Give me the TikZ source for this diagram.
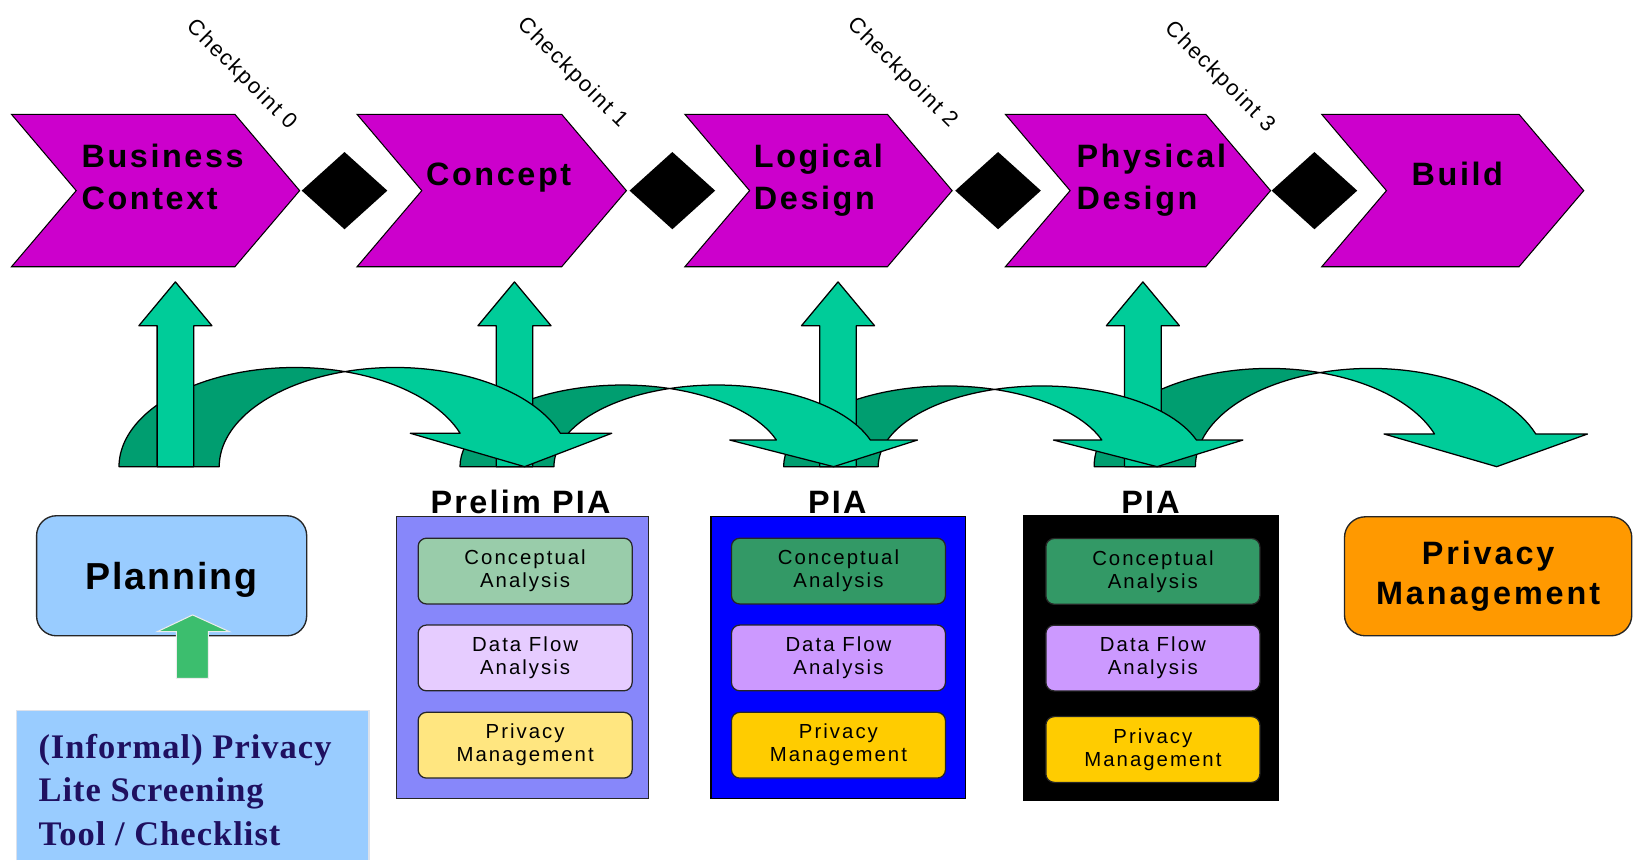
\documentclass[tikz,border=0pt]{standalone}
\usepackage{fontspec}
\setmainfont{Liberation Sans}
\newfontfamily\timesfam{Liberation Serif}
\definecolor{chevmag}{RGB}{204,0,204}
\definecolor{arrlight}{RGB}{0,204,153}
\definecolor{arrdark}{RGB}{0,158,112}
\definecolor{planblue}{RGB}{153,204,255}
\definecolor{orangebox}{RGB}{255,153,0}
\definecolor{upgreen}{RGB}{60,190,110}
\definecolor{navytext}{RGB}{31,16,96}
\definecolor{prelimbg}{RGB}{135,135,250}
\definecolor{concgreen}{RGB}{51,153,102}
\definecolor{flowpurple}{RGB}{204,153,255}
\definecolor{privyellow}{RGB}{255,204,0}
\definecolor{concgreenlt}{RGB}{153,204,170}
\definecolor{flowpurplelt}{RGB}{230,204,255}
\definecolor{privyellowlt}{RGB}{255,230,128}
\definecolor{infoborder}{RGB}{220,225,235}

% curved arrow: #1 left foot x, #2 band width, #3 x radius, #4 y radius,
% #5 head base y, #6 left barb x, #7 right barb x, #8 tip x
\newcommand{\curvarrow}[8]{%
  \pgfmathsetmacro{\cxA}{#1+#3}%
  \pgfmathsetmacro{\angI}{acos(#2/(2*#3))}%
  \pgfmathsetmacro{\angH}{asin((447-#5)/#4)}%
  \pgfmathsetmacro{\xiA}{\cxA+#3*cos(\angH)}%
  \filldraw[arrbody, fill=arrdark]
    (#1,447) arc[start angle=180, end angle={360-\angI}, x radius=#3, y radius=#4]
    arc[start angle={180+\angI}, end angle=180, x radius=#3, y radius=#4] -- cycle;
  \filldraw[arrbody, fill=arrlight]
    (\xiA,#5) arc[start angle={360-\angH}, end angle={360-\angI}, x radius=#3, y radius=#4]
    arc[start angle={180+\angI}, end angle={360-\angH}, x radius=#3, y radius=#4]
    -- (#7,#5) -- (#8,447) -- (#6,#5) -- cycle;
}
% up arrow: #1 centre x
\newcommand{\uparr}[1]{%
  \filldraw[arrbody, fill=arrlight]
    (#1-17.5,447) -- (#1-17.5,312) -- (#1-35,312) -- (#1,270) -- (#1+35,312)
    -- (#1+17.5,312) -- (#1+17.5,447) -- cycle;
}
% chevron: #1 left x, #2 tip x
\newcommand{\chevshape}[2]{%
  \draw[chev] (#1,109.5) -- (#2-62,109.5) -- (#2,182.6) -- (#2-62,255.5)
    -- (#1,255.5) -- (#1+62,182.6) -- cycle;
}
\newcommand{\diam}[1]{%
  \fill[black] (#1-41,182.6) -- (#1,145.6) -- (#1+41,182.6) -- (#1,219.6) -- cycle;
}

\begin{document}
\begin{tikzpicture}[x=1pt,y=-1pt,
  chev/.style={fill=chevmag, draw=black, line width=1pt},
  arrbody/.style={draw=black, line width=1.2pt, line join=round},
  chevtext/.style={font=\fontsize{31}{40.5}\selectfont\bfseries\addfontfeature{LetterSpace=8},
    inner sep=0pt, anchor=base west, align=left},
  cptext/.style={font=\fontsize{21}{24}\selectfont\addfontfeature{LetterSpace=8},
    inner sep=0pt, rotate=-45},
  boxlabel/.style={font=\fontsize{31}{35}\selectfont\bfseries\addfontfeature{LetterSpace=7},
    inner sep=0pt, anchor=base},
  innerbox/.style={draw=black!85, line width=1.2pt, rounded corners=8pt,
    minimum width=205pt, minimum height=63pt, inner sep=0pt, align=center,
    font=\fontsize{19.5}{22}\selectfont\addfontfeature{LetterSpace=10}},
  bigbox/.style={draw=black!85, line width=1.3pt, inner sep=0pt, align=center}
]
\useasboundingbox (0,0) rectangle (1568,824);

% ---------- chevrons ----------
\chevshape{11}{287}
\chevshape{342}{600}
\chevshape{656}{912}
\chevshape{963}{1217}
\chevshape{1266}{1517}
\diam{330}
\diam{644}
\diam{956}
\diam{1259}

\node[chevtext] (bc) at (78,201) {Business\\Context};
\node[chevtext] (cc) at (408,177.5) {Concept};
\node[chevtext] (ld) at (722,201) {Logical\\Design};
\node[chevtext] (pd) at (1031,201) {Physical\\Design};
\node[chevtext] (bd) at (1352,177.5) {Build};

\node[cptext] (cp0) at (231,72) {Checkpoint 0};
\node[cptext] (cp1) at (548,70) {Checkpoint 1};
\node[cptext] (cp2) at (864,70) {Checkpoint 2};
\node[cptext] (cp3) at (1168,74) {Checkpoint 3};

% ---------- green arrows (right to left for layering) ----------
\curvarrow{1048}{97}{167.8}{94.1}{415.7}{1325.7}{1520.6}{1433.6}
\uparr{1094.7}
\curvarrow{750.6}{90.6}{156.8}{77.3}{421.5}{1009}{1190.5}{1108.3}
\uparr{802.7}
\curvarrow{440.6}{90}{155.8}{78.2}{421.5}{699}{878.8}{798.5}
\uparr{492.8}
\curvarrow{114}{96}{168.3}{95}{415}{393}{586}{502.5}
\uparr{168}

% ---------- planning ----------
\node[bigbox, fill=planblue, rounded corners=19pt, minimum width=258.7pt, minimum height=115pt,
  font=\fontsize{36}{40}\selectfont\bfseries\addfontfeature{LetterSpace=5},
  text height=26pt, text depth=0pt] (plan) at (164.4,551.5) {Planning};
\filldraw[fill=upgreen, draw=white!85!gray, line width=1pt]
  (169,649.7) -- (169,605) -- (150.7,605) -- (184.5,589) -- (219.7,605)
  -- (199.6,605) -- (199.6,649.7) -- cycle;

\fill[planblue] (16,680.7) rectangle (353.6,824);
\draw[infoborder, line width=1.5pt] (16,824) -- (16,680.7) -- (353.6,680.7) -- (353.6,824);
\node[inner sep=0pt, anchor=base west, align=left, text=navytext,
  font=\fontsize{33}{41.5}\timesfam\bfseries\addfontfeature{LetterSpace=3}]
  (lite) at (36.7,809.4) {(Informal) Privacy\\Lite Screening\\Tool / Checklist};

% ---------- prelim PIA ----------
\node[boxlabel] (lbl1) at (498.6,491.7) {Prelim PIA};
\filldraw[fill=prelimbg, draw=black!85, line width=1.2pt] (379.6,495) rectangle (620.8,765);
\node[innerbox, fill=concgreenlt] (p1) at (503,547) {Conceptual\\Analysis};
\node[innerbox, fill=flowpurplelt] (p2) at (503,630.2) {Data Flow\\Analysis};
\node[innerbox, fill=privyellowlt] (p3) at (503,713.8) {Privacy\\Management};

% ---------- PIA (blue) ----------
\node[boxlabel] (lbl2) at (802,491.7) {PIA};
\filldraw[fill=blue, draw=black, line width=1.2pt] (681,495) rectangle (925,765);
\node[innerbox, fill=concgreen] (q1) at (803.1,547) {Conceptual\\Analysis};
\node[innerbox, fill=flowpurple] (q2) at (803.1,630.2) {Data Flow\\Analysis};
\node[innerbox, fill=privyellow] (q3) at (803.1,713.8) {Privacy\\Management};

% ---------- PIA (black) ----------
\node[boxlabel] (lbl3) at (1102,491.7) {PIA};
\filldraw[fill=black, draw=black, line width=1.2pt] (980.5,494) rectangle (1224.4,767);
\node[innerbox, fill=concgreen] (r1) at (1104.3,547.3) {Conceptual\\Analysis};
\node[innerbox, fill=flowpurple] (r2) at (1104.3,630.3) {Data Flow\\Analysis};
\node[innerbox, fill=privyellow] (r3) at (1104.3,717.9) {Privacy\\Management};

% ---------- privacy management ----------
\node[bigbox, fill=orangebox, rounded corners=20pt, minimum width=275.2pt, minimum height=114pt,
  font=\fontsize{31}{38.3}\selectfont\bfseries\addfontfeature{LetterSpace=9}]
  (pm) at (1425.4,552) {Privacy\\Management};
\end{tikzpicture}
\end{document}
